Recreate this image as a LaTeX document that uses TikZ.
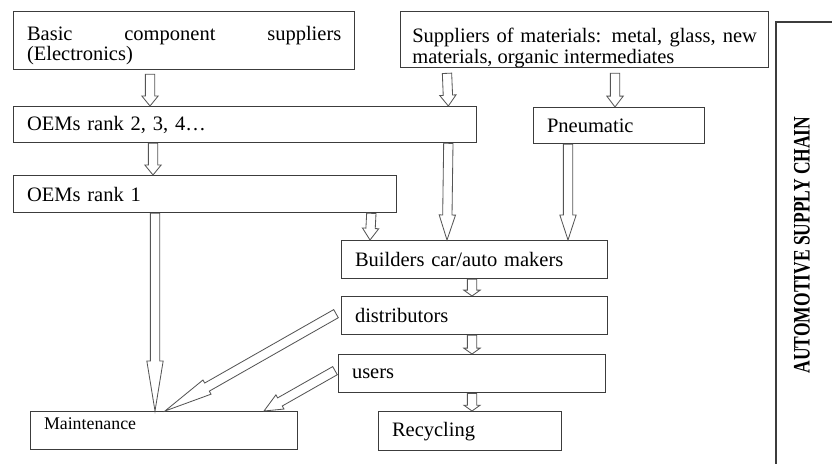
\documentclass[tikz,border=0pt]{standalone}
\usepackage{fontspec}
\setmainfont{Liberation Serif}
\usetikzlibrary{calc}
\definecolor{boxline}{HTML}{3C3C3C}
\definecolor{arrline}{HTML}{555555}
\tikzset{
  box/.style 2 args={draw=boxline,line width=0.8pt,anchor=north west,inner xsep=8pt,inner ysep=0pt,
    minimum width=#1*0.6pt,minimum height=#2*0.6pt,text width=#1*0.6pt-16pt,align=left,
    font=\fontsize{12.3}{12.3}\selectfont},
  arrowline/.style={draw=arrline,line width=0.5pt,fill=white,line join=miter}
}
\newcommand\hollowarrow[3]{%
  \path (#1) coordinate (ha-s) (#2) coordinate (ha-e);
  \path ($(ha-e)!#3!(ha-s)$) coordinate (ha-h);
  \draw[arrowline] ($(ha-s)!2.8pt!90:(ha-e)$)--($(ha-h)!2.8pt!90:(ha-e)$)--($(ha-h)!4.9pt!90:(ha-e)$)--(ha-e)
    --($(ha-h)!4.9pt!-90:(ha-e)$)--($(ha-h)!2.8pt!-90:(ha-e)$)--($(ha-s)!2.8pt!-90:(ha-e)$)--cycle;
}

\begin{document}
\begin{tikzpicture}[x=0.6pt,y=-0.6pt]
\useasboundingbox (0,0) rectangle (832,464);
\node[box={341}{58},align=justify,text depth=9pt] (basic) at (13,11) {Basic component suppliers\linebreak (Electronics)};
\node[box={368}{56},align=justify,inner xsep=7pt,text width=368*0.6pt-14pt,text depth=5pt] (supp) at (400,11) {Suppliers of materials: metal, glass, new\linebreak materials, organic intermediates};
\node[box={463}{36}] (oemb) at (13,106) {OEMs rank 2, 3, 4\dots};
\node[box={171}{36}] (pneu) at (533,107) {Pneumatic};
\node[box={383}{37}] (oema) at (13,175) {OEMs rank 1};
\node[box={266}{38}] (build) at (341,240) {Builders car/auto makers};
\node[box={266}{38}] (distr) at (341,296) {distributors};
\node[box={267}{38}] (users) at (338,354) {users};
\node[box={183}{39}] (recyc) at (378,411) {Recycling};
\node[box={267}{38},font=\fontsize{10.7}{10.7}\selectfont,text depth=9pt] (maint) at (30,411) {Maintenance};
\draw[boxline,line width=0.8pt] (776,464) |- (832,22);
\node[rotate=90,font=\bfseries\fontsize{10.5}{10.5}\selectfont] (chain) at (802,245) {\scalebox{1}[1.35]{AUTOMOTIVE SUPPLY CHAIN}};
\hollowarrow{$(basic.south west)+(137,4)$}{$(oemb.north west)+(137,0)$}{6pt}
\hollowarrow{$(oemb.south west)+(140,0)$}{$(oema.north west)+(140,0)$}{6pt}
\hollowarrow{$(supp.south west)+(47,5)$}{$(oemb.north east)+(-29,0)$}{6.5pt}
\hollowarrow{$(supp.south west)+(215,5)$}{$(pneu.north west)+(82,0)$}{6.5pt}
\hollowarrow{$(oemb.south east)+(-29,0)$}{$(build.north west)+(106,0)$}{15pt}
\hollowarrow{$(pneu.south west)+(35,0)$}{$(build.north west)+(227,0)$}{15pt}
\hollowarrow{$(oema.south east)+(-26,0)$}{$(build.north west)+(29,0)$}{7pt}
\hollowarrow{$(oema.south west)+(142,0)$}{$(maint.north west)+(125,0)$}{30pt}
\hollowarrow{$(build.south west)+(131,0)$}{$(distr.north west)+(131,0)$}{3.5pt}
\hollowarrow{$(distr.south west)+(131,0)$}{$(users.north west)+(134,0)$}{3.5pt}
\hollowarrow{$(users.south west)+(134,0)$}{$(recyc.north west)+(94,0)$}{3.5pt}
\hollowarrow{$(distr.west)+(-5,-2)$}{$(maint.north west)+(135,0)$}{29pt}
\hollowarrow{$(users.west)+(-3,-3)$}{$(maint.north west)+(234,0)$}{11pt}
\end{tikzpicture}
\end{document}
